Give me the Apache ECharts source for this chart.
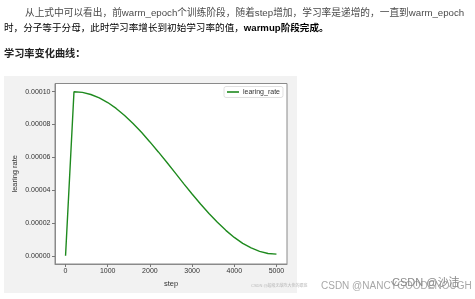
<!DOCTYPE html>
<html>
<head>
<meta charset="utf-8">
<script src="https://cdn.jsdelivr.net/npm/echarts@6/dist/echarts.min.js"></script>
<style>
html,body{margin:0;padding:0;background:#fff;}
#c{width:475px;height:299px;}
</style>
</head>
<body>
<div id="c"></div>
<script>
// ---- data ----
const steps = [0, 200, 400, 600, 800, 1000, 1200, 1400, 1600, 1800, 2000, 2200, 2400, 2600,
  2800, 3000, 3200, 3400, 3600, 3800, 4000, 4200, 4400, 4600, 4800, 5000];
const learningRate = [0.0000000, 0.0001000, 0.0000996, 0.0000983, 0.0000962, 0.0000934,
  0.0000898, 0.0000855, 0.0000806, 0.0000753, 0.0000694, 0.0000633, 0.0000570, 0.0000505,
  0.0000440, 0.0000377, 0.0000316, 0.0000258, 0.0000204, 0.0000155, 0.0000112, 0.0000076,
  0.0000048, 0.0000027, 0.0000014, 0.0000010];
const xTicks = [0, 1000, 2000, 3000, 4000, 5000];
const yTicks = [0, 0.00002, 0.00004, 0.00006, 0.00008, 0.00010];
const seriesName = 'learing_rate';
const xName = 'step';
const yName = 'learing rate';
const para1 = '从上式中可以看出，前warm_epoch个训练阶段，随着step增加，学习率是递增的，一直到warm_epoch';
const para2a = '时，分子等于分母，此时学习率增长到初始学习率的值，';
const para2b = 'warmup阶段完成。';
const heading = '学习率变化曲线：';
const wmInner = 'CSDN @超级无敌陈大佬的跟班';
const wmMain = 'CSDN @NANCYGOODENOUGH';
const wmOver = 'CSDN @沙洁';

const FF = '"Liberation Sans", "Noto Sans CJK SC", sans-serif';
const chart = echarts.init(document.getElementById('c'), null, {renderer: 'canvas'});
const data = steps.map((s, i) => [s, learningRate[i]]);

chart.setOption({
  animation: false,
  backgroundColor: '#fff',
  graphic: [
    {type: 'rect', z: -5, shape: {x: 4, y: 76, width: 293, height: 217}, style: {fill: '#f2f2f2'}},
    {type: 'text', x: 25, y: 13.5, style: {text: para1, font: '9.7px ' + FF, fill: '#4a4a4a', textVerticalAlign: 'middle'}},
    {type: 'text', x: 4, y: 28.5, style: {
      text: '{a|' + para2a + '}{b|' + para2b + '}',
      textVerticalAlign: 'middle',
      rich: {
        a: {fontSize: 9.6, fontFamily: FF, color: '#4a4a4a'},
        b: {fontSize: 9.6, fontFamily: FF, color: '#222', fontWeight: 'bold'}
      }
    }},
    {type: 'text', x: 4, y: 54.5, style: {text: heading, font: 'bold 10.2px ' + FF, fill: '#222', textVerticalAlign: 'middle'}},
    {type: 'text', x: 251, y: 286, style: {text: wmInner, font: '4px ' + FF, fill: '#b8b8b8', textVerticalAlign: 'middle'}},
    {type: 'text', x: 321, y: 286.5, style: {text: wmMain, font: '10px ' + FF, fill: '#a8a8a8', textVerticalAlign: 'middle'}},
    {type: 'text', x: 392, y: 283, style: {text: wmOver, font: '11px ' + FF, fill: '#8a8a8a', textVerticalAlign: 'middle'}}
  ],
  grid: {
    left: 55, top: 83.5, width: 232, height: 180.5,
    show: true, backgroundColor: '#fff', borderColor: '#8a8a8a', borderWidth: 1
  },
  legend: {
    show: true,
    data: [seriesName],
    left: 224, top: 86.5,
    orient: 'horizontal',
    icon: 'rect',
    itemWidth: 12, itemHeight: 1.6,
    itemGap: 4,
    padding: [2, 3, 2, 3],
    borderColor: '#d8d8d8', borderWidth: 0.8, borderRadius: 2,
    backgroundColor: '#fff',
    textStyle: {fontSize: 7, fontFamily: FF, color: '#333', padding: [0, 0, 0, -1]}
  },
  xAxis: {
    type: 'value', min: -250, max: 5250,
    name: xName, nameLocation: 'middle', nameGap: 15,
    nameTextStyle: {fontSize: 7.5, fontFamily: FF, color: '#333'},
    axisLine: {show: true, onZero: false, lineStyle: {color: '#8a8a8a', width: 1}},
    axisTick: {show: true, inside: false, customValues: xTicks, length: 3, lineStyle: {color: '#777'}},
    axisLabel: {customValues: xTicks, fontSize: 7, fontFamily: FF, color: '#333', margin: 4,
      formatter: v => String(v)},
    splitLine: {show: false}
  },
  yAxis: {
    type: 'value', min: -0.000005, max: 0.000105,
    name: yName, nameLocation: 'middle', nameGap: 36, nameRotate: 90,
    nameTextStyle: {fontSize: 7.5, fontFamily: FF, color: '#333'},
    axisLine: {show: true, onZero: false, lineStyle: {color: '#8a8a8a', width: 1}},
    axisTick: {show: true, inside: false, customValues: yTicks, length: 3, lineStyle: {color: '#777'}},
    axisLabel: {customValues: yTicks, fontSize: 7, fontFamily: FF, color: '#333', margin: 4.5,
      formatter: v => v.toFixed(5)},
    splitLine: {show: false}
  },
  series: [{
    name: seriesName,
    type: 'line',
    data: data,
    symbol: 'none',
    lineStyle: {color: '#1e8a1e', width: 1.4},
    itemStyle: {color: '#1e8a1e'}
  }]
});
</script>
</body>
</html>
